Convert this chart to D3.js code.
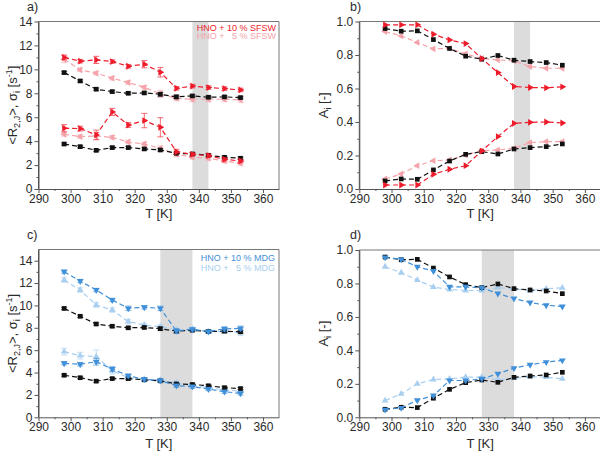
<!DOCTYPE html>
<html><head><meta charset="utf-8">
<script src="https://cdn.jsdelivr.net/npm/d3@7"></script>
<style>
body{margin:0;background:#fff;}
text{font-family:"Liberation Sans",Arial,sans-serif;}
</style></head>
<body><svg id="chart" width="600" height="451"></svg>
<script>
// ---------- DATA ----------
const temps = [298,303,308,313,318,323,328,333,338,343,348,353];
const xTicks = [290,300,310,320,330,340,350,360];

// Panel a / c : relaxation rates
const refR2   = [9.73,9.03,8.34,8.14,8.00,8.03,7.92,7.70,7.78,7.67,7.70,7.64];
const refSig  = [3.76,3.54,3.23,3.46,3.46,3.35,3.26,2.98,2.93,2.82,2.65,2.57];
const sfsw10R2  = [11.0,10.68,10.79,10.65,10.26,10.43,9.76,8.42,8.60,8.48,8.39,8.28];
const sfsw10Sig = [5.08,5.05,4.52,6.44,5.35,5.72,5.16,3.12,2.90,2.79,2.48,2.34];
const sfsw5R2   = [10.85,9.96,9.68,9.26,8.90,8.50,7.95,7.58,7.50,7.50,7.50,7.45];
const sfsw5Sig  = [4.57,4.38,4.43,4.32,3.93,3.76,3.40,2.90,2.65,2.57,2.34,2.15];
const mdg10R2   = [13.02,12.18,11.38,10.49,9.74,9.83,9.74,7.72,7.86,7.66,7.90,7.95];
const mdg10Sig  = [4.83,4.74,4.97,4.32,3.72,3.40,3.28,2.83,2.74,2.53,2.29,2.14];
const mdg5R2    = [12.27,11.38,10.04,9.59,8.55,8.25,8.10,7.80,7.90,7.66,7.66,7.60];
const mdg5Sig   = [5.87,5.51,5.42,4.17,3.54,3.40,3.34,3.10,2.83,2.65,2.44,2.35];

// error bars (half widths)
const refR2Err   = [0.1,0.1,0.1,0.1,0.1,0.1,0.15,0.15,0.1,0.1,0.1,0.1];
const refSigErr  = [0.1,0.1,0.1,0.1,0.1,0.1,0.1,0.1,0.1,0.1,0.1,0.1];
const sfsw10R2Err  = [0.2,0.15,0.3,0.15,0.15,0.3,0.4,0.15,0.15,0.15,0.15,0.15];
const sfsw10SigErr = [0.3,0.2,0.4,0.3,0.2,0.6,0.8,0.2,0.15,0.15,0.15,0.15];
const sfsw5R2Err   = [0.3,0.15,0.15,0.15,0.15,0.15,0.3,0.2,0.2,0.2,0.2,0.2];
const sfsw5SigErr  = [0.15,0.15,0.3,0.15,0.15,0.15,0.2,0.2,0.15,0.15,0.15,0.15];
const mdg10R2Err   = [0.15,0.15,0.15,0.15,0.2,0.15,0.2,0.2,0.15,0.15,0.2,0.2];
const mdg10SigErr  = [0.15,0.15,0.3,0.2,0.15,0.15,0.15,0.15,0.15,0.15,0.15,0.15];
const mdg5R2Err    = [0.2,0.2,0.2,0.2,0.2,0.15,0.15,0.15,0.15,0.15,0.15,0.3];
const mdg5SigErr   = [0.3,0.3,0.6,0.3,0.2,0.15,0.15,0.15,0.15,0.15,0.15,0.15];

// Panel b / d : populations
const refA1  = [0.958,0.942,0.944,0.892,0.839,0.793,0.775,0.797,0.769,0.761,0.755,0.739];
const refA2  = [0.048,0.060,0.058,0.114,0.167,0.207,0.223,0.209,0.239,0.247,0.253,0.269];
const sfsw10A1 = [0.980,0.980,0.980,0.924,0.890,0.868,0.779,0.695,0.612,0.606,0.604,0.610];
const sfsw10A2 = [0.024,0.024,0.024,0.088,0.118,0.139,0.227,0.313,0.392,0.398,0.400,0.394];
const sfsw5A1  = [0.940,0.914,0.875,0.837,0.839,0.807,0.779,0.771,0.765,0.731,0.721,0.721];
const sfsw5A2  = [0.060,0.090,0.139,0.169,0.173,0.203,0.229,0.233,0.243,0.277,0.283,0.283];
const mdg10A1  = [0.956,0.944,0.900,0.874,0.780,0.780,0.774,0.740,0.710,0.686,0.670,0.662];
const mdg10A2  = [0.046,0.056,0.102,0.130,0.220,0.220,0.230,0.260,0.294,0.314,0.330,0.340];
const mdg5A1   = [0.900,0.864,0.820,0.778,0.764,0.758,0.758,0.776,0.766,0.758,0.768,0.774];
const mdg5A2   = [0.100,0.140,0.200,0.226,0.230,0.240,0.240,0.224,0.234,0.242,0.240,0.230];

const legendSFSW = ["HNO + 10 % SFSW","HNO +   5 % SFSW"];
const legendMDG  = ["HNO + 10 % MDG","HNO +   5 % MDG"];

// ---------- STYLE ----------
const C = {
  black:"#111111",
  red:"#ee1c2b", pink:"#f5a3aa",
  blue:"#3f8fd9", lblue:"#a9cff0",
  band:"#dcdcdc", axis:"#555", text:"#2a2a2a"
};

const svg = d3.select("#chart");

function drawPanel(p){
  const g = svg.append("g");
  const x = d3.scaleLinear().domain([290,365]).range([p.left,p.right]);
  const y = d3.scaleLinear().domain([0,p.ymax]).range([p.bottom,p.top]);

  g.append("rect").attr("x",x(p.band[0])).attr("y",p.top)
    .attr("width",x(p.band[1])-x(p.band[0])).attr("height",p.bottom-p.top)
    .attr("fill",C.band);

  g.append("path").attr("d",`M${p.left},${p.top}H${p.right}V${p.bottom}`)
    .attr("fill","none").attr("stroke","#777").attr("stroke-width",1);

  const xMinor = d3.range(295,365,10);
  g.append("g").attr("transform",`translate(0,${p.bottom})`)
    .call(d3.axisBottom(x).tickValues(xTicks).tickSize(4).tickSizeOuter(0).tickPadding(1));
  g.append("g").attr("transform",`translate(0,${p.bottom})`)
    .call(d3.axisBottom(x).tickValues(xMinor).tickSize(2).tickFormat("").tickSizeOuter(0))
    .select(".domain").remove();
  g.append("g").attr("transform",`translate(${p.left},0)`)
    .call(d3.axisLeft(y).tickValues(p.yTicks).tickSize(4).tickSizeOuter(0).tickPadding(2).tickFormat(p.fmt));
  g.append("g").attr("transform",`translate(${p.left},0)`)
    .call(d3.axisLeft(y).tickValues(p.yMinor).tickSize(2).tickFormat("").tickSizeOuter(0))
    .select(".domain").remove();
  g.selectAll(".domain").attr("stroke",C.axis);
  g.selectAll(".tick line").attr("stroke",C.axis);
  g.selectAll(".tick text").attr("fill",C.text).style("font-size","12px")
    .style("font-family","'Liberation Sans',Arial,sans-serif");
  g.append("line").attr("x1",p.left).attr("x2",p.left).attr("y1",p.top).attr("y2",p.bottom).attr("stroke",C.axis);

  p.series.forEach(s=>{
    const pts = temps.map((t,i)=>({t, v:s.values[i], e:s.err?s.err[i]:0}));
    const line = d3.line().x(d=>x(d.t)).y(d=>y(d.v));
    g.append("path").datum(pts).attr("d",line).attr("fill","none")
      .attr("stroke",s.color).attr("stroke-width",1.2).attr("stroke-dasharray","5,3");
    if(s.err){
      const eb = g.append("g").attr("stroke",s.color).attr("stroke-width",0.8).attr("opacity",0.8);
      pts.forEach(d=>{
        eb.append("line").attr("x1",x(d.t)).attr("x2",x(d.t)).attr("y1",y(d.v-d.e)).attr("y2",y(d.v+d.e));
        eb.append("line").attr("x1",x(d.t)-3).attr("x2",x(d.t)+3).attr("y1",y(d.v-d.e)).attr("y2",y(d.v-d.e));
        eb.append("line").attr("x1",x(d.t)-3).attr("x2",x(d.t)+3).attr("y1",y(d.v+d.e)).attr("y2",y(d.v+d.e));
      });
    }
    const sym = d3.symbol().type(s.shape==="square"?d3.symbolSquare:d3.symbolTriangle).size(s.shape==="square"?22:20);
    g.append("g").selectAll("path").data(pts).join("path")
      .attr("d",sym)
      .attr("transform",d=>`translate(${x(d.t)},${y(d.v)}) rotate(${s.rot||0})`)
      .attr("fill",s.color);
  });

  g.append("text").attr("x",(p.left+p.right)/2).attr("y",p.xlabY).attr("text-anchor","middle")
    .attr("fill",C.text).style("font-size","13px").text("T [K]");

  const yl = g.append("text").attr("transform",`translate(${p.ylabX},${(p.top+p.bottom)/2}) rotate(-90)`)
    .attr("text-anchor","middle").attr("fill",C.text).style("font-size","13px");
  p.ylab(yl);

  g.append("text").attr("x",p.tag[1]).attr("y",p.tag[2]).attr("fill",C.text)
    .style("font-size","12.5px").text(p.tag[0]);

  if(p.legend){
    p.legend.labels.forEach((l,i)=>{
      g.append("text").attr("x",p.legend.x).attr("y",p.legend.y[i]).attr("text-anchor","end")
        .attr("fill",p.legend.colors[i]).style("font-size","9px").style("white-space","pre")
        .attr("xml:space","preserve").text(l);
    });
  }
}

function rLabel(t){
  t.append("tspan").text("<R");
  t.append("tspan").attr("dy",3).style("font-size","9px").text("2,J");
  t.append("tspan").attr("dy",-3).text(">, σ");
  t.append("tspan").attr("dy",3).style("font-size","9px").text("i");
  t.append("tspan").attr("dy",-3).text(" [s");
  t.append("tspan").attr("dy",-5).style("font-size","9px").text("-1");
  t.append("tspan").attr("dy",5).text("]");
}
function aLabel(t){
  t.append("tspan").text("A");
  t.append("tspan").attr("dy",3).style("font-size","9px").text("i");
  t.append("tspan").attr("dy",-3).text(" [-]");
}

const rTicks = d3.range(0,15,2), rMinor = d3.range(1,15,2);
const aTicks = [0,0.2,0.4,0.6,0.8,1.0], aMinor=[0.1,0.3,0.5,0.7,0.9];
const f1 = d3.format(".1f");

drawPanel({left:38.5,right:279,top:21.5,bottom:189,ymax:14,band:[338,343],
  yTicks:rTicks,yMinor:rMinor,fmt:d3.format("d"),xlabY:218,ylabX:17,ylab:rLabel,tag:["a)",27,11],
  legend:{labels:legendSFSW,x:276,y:[30.5,39],colors:[C.red,C.pink]},
  series:[
    {values:sfsw5R2,err:sfsw5R2Err,color:C.pink,shape:"tri",rot:-90},
    {values:sfsw5Sig,err:sfsw5SigErr,color:C.pink,shape:"tri",rot:-90},
    {values:refR2,err:refR2Err,color:C.black,shape:"square"},
    {values:refSig,err:refSigErr,color:C.black,shape:"square"},
    {values:sfsw10R2,err:sfsw10R2Err,color:C.red,shape:"tri",rot:90},
    {values:sfsw10Sig,err:sfsw10SigErr,color:C.red,shape:"tri",rot:90}
  ]});

drawPanel({left:359.3,right:601,top:21.5,bottom:189,ymax:1,band:[338,343],
  yTicks:aTicks,yMinor:aMinor,fmt:f1,xlabY:218,ylabX:328,ylab:aLabel,tag:["b)",350,11],
  series:[
    {values:sfsw5A1,color:C.pink,shape:"tri",rot:-90},
    {values:sfsw5A2,color:C.pink,shape:"tri",rot:-90},
    {values:refA1,color:C.black,shape:"square"},
    {values:refA2,color:C.black,shape:"square"},
    {values:sfsw10A1,color:C.red,shape:"tri",rot:90},
    {values:sfsw10A2,color:C.red,shape:"tri",rot:90}
  ]});

drawPanel({left:38.5,right:279,top:249.5,bottom:417.3,ymax:15,band:[328,338],
  yTicks:rTicks,yMinor:rMinor,fmt:d3.format("d"),xlabY:448,ylabX:17,ylab:rLabel,tag:["c)",27,239],
  legend:{labels:legendMDG,x:275,y:[261,270.5],colors:[C.blue,C.lblue]},
  series:[
    {values:mdg5R2,err:mdg5R2Err,color:C.lblue,shape:"tri",rot:0},
    {values:mdg5Sig,err:mdg5SigErr,color:C.lblue,shape:"tri",rot:0},
    {values:refR2,err:refR2Err,color:C.black,shape:"square"},
    {values:refSig,err:refSigErr,color:C.black,shape:"square"},
    {values:mdg10R2,err:mdg10R2Err,color:C.blue,shape:"tri",rot:180},
    {values:mdg10Sig,err:mdg10SigErr,color:C.blue,shape:"tri",rot:180}
  ]});

drawPanel({left:359.3,right:601,top:250,bottom:417.3,ymax:1,band:[328,338],
  yTicks:aTicks,yMinor:aMinor,fmt:f1,xlabY:448,ylabX:328,ylab:aLabel,tag:["d)",350,239],
  series:[
    {values:mdg5A1,color:C.lblue,shape:"tri",rot:0},
    {values:mdg5A2,color:C.lblue,shape:"tri",rot:0},
    {values:refA1,color:C.black,shape:"square"},
    {values:refA2,color:C.black,shape:"square"},
    {values:mdg10A1,color:C.blue,shape:"tri",rot:180},
    {values:mdg10A2,color:C.blue,shape:"tri",rot:180}
  ]});
</script></body></html>
